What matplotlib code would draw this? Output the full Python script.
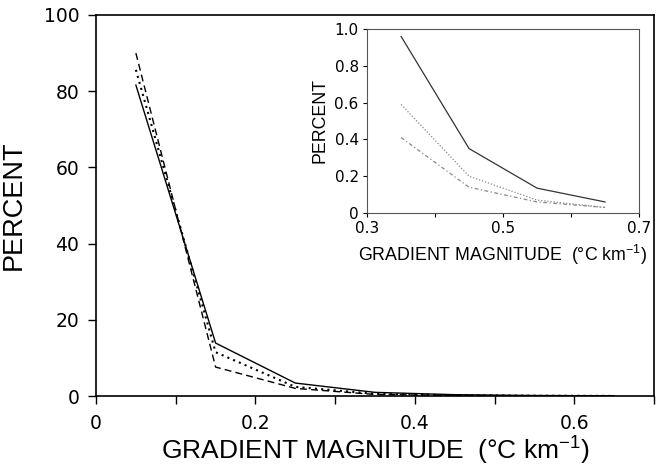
import matplotlib
matplotlib.use('Agg')
import matplotlib.pyplot as plt
from matplotlib.ticker import MultipleLocator

plt.rcParams['font.family'] = ['Liberation Sans', 'DejaVu Sans']
plt.rcParams['mathtext.default'] = 'regular'

# gradient magnitude bin centres (degC/km)
grad = [0.05, 0.15, 0.25, 0.35, 0.45, 0.55, 0.65]
# percent of occurrences, three series
solid = [81.6, 13.9, 3.4, 0.96, 0.35, 0.135, 0.06]
dotted = [85.6, 11.5, 2.4, 0.59, 0.20, 0.07, 0.03]
dashed = [90.0, 7.6, 2.0, 0.41, 0.14, 0.06, 0.03]

main_xticks = [0, 0.2, 0.4, 0.6]
main_yticks = [0, 20, 40, 60, 80, 100]
inset_xticks = [0.3, 0.5, 0.7]
inset_yticks = [0, 0.2, 0.4, 0.6, 0.8, 1.0]

tickfont = dict(family='DejaVu Sans')

fig = plt.figure(figsize=(6.65, 4.71), dpi=100)
ax = fig.add_axes([0.1444, 0.1592, 0.8391, 0.809])
ax.plot(grad, solid, color='black', lw=1.0, ls='-')
ax.plot(grad, dotted, color='black', lw=1.5, ls=(0, (1, 2)))
ax.plot(grad, dashed, color='black', lw=1.0, ls=(0, (5, 3)))
ax.set_xlim(0, 0.7)
ax.set_ylim(0, 100)
ax.set_xticks(main_xticks)
ax.set_xticklabels(['0', '0.2', '0.4', '0.6'], **tickfont)
ax.xaxis.set_minor_locator(MultipleLocator(0.1))
ax.set_yticks(main_yticks)
ax.set_yticklabels([str(v) for v in main_yticks], **tickfont)
ax.tick_params(which='both', direction='out', length=6, width=1, labelsize=13.5)
ax.tick_params(axis='x', pad=7)
ax.tick_params(axis='y', pad=6)
for s in ax.spines.values():
    s.set_linewidth(1.2)
ax.set_xlabel('GRADIENT MAGNITUDE  (°C km$^{-1}$)', fontsize=19, labelpad=1)
ax.set_ylabel('PERCENT', fontsize=19.5, labelpad=12)

ins = fig.add_axes([0.552, 0.5478, 0.409, 0.3906])
ins.plot(grad[3:], solid[3:], color='#333333', lw=0.9, ls='-')
ins.plot(grad[3:], dotted[3:], color='#888888', lw=0.9, ls=(0, (1, 1.5)))
ins.plot(grad[3:], dashed[3:], color='#888888', lw=0.9, ls=(0, (3, 2, 1, 2)))
ins.set_xlim(0.3, 0.7)
ins.set_ylim(0, 1.0)
ins.set_xticks(inset_xticks)
ins.set_xticklabels(['0.3', '0.5', '0.7'], **tickfont)
ins.xaxis.set_minor_locator(MultipleLocator(0.1))
ins.set_yticks(inset_yticks)
ins.set_yticklabels(['0', '0.2', '0.4', '0.6', '0.8', '1.0'], **tickfont)
ins.tick_params(which='both', direction='out', length=3, width=0.8, labelsize=11, pad=3)
for s in ins.spines.values():
    s.set_linewidth(0.8)
    s.set_color('#555555')
ins.set_xlabel('GRADIENT MAGNITUDE  (°C km$^{-1}$)', fontsize=12.8, labelpad=5)
ins.set_ylabel('PERCENT', fontsize=12.8, labelpad=4)

fig.savefig('out.png', dpi=100)
